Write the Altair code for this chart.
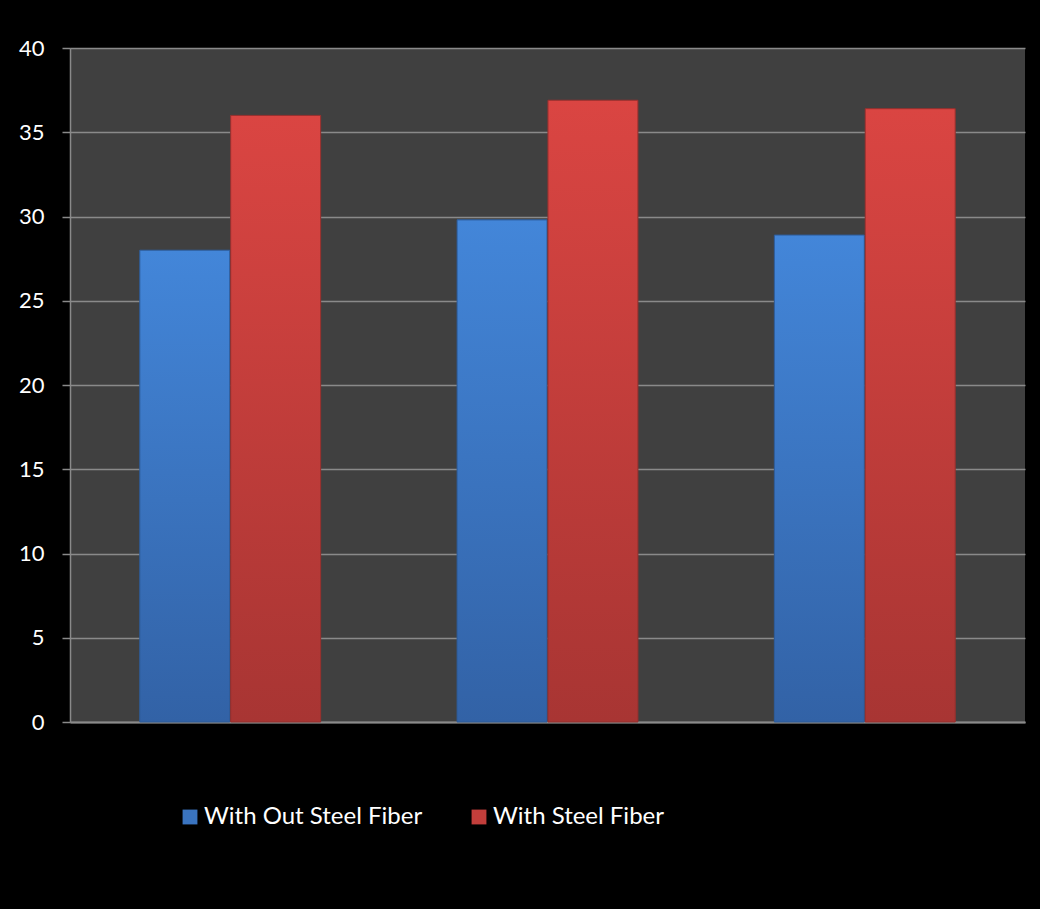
import altair as alt
import pandas as pd

# Compressive strength per mix, with and without steel fibre
groups = ["Mix 1", "Mix 2", "Mix 3"]
series = ["With Out Steel Fiber", "With Steel Fiber"]
without_fiber = [28.0, 29.8, 28.9]
with_fiber = [36.0, 36.9, 36.4]
y_ticks = [0, 5, 10, 15, 20, 25, 30, 35, 40]

rows = []
for g, a, b in zip(groups, without_fiber, with_fiber):
    rows.append({"group": g, "series": series[0], "value": a})
    rows.append({"group": g, "series": series[1], "value": b})
df = pd.DataFrame(rows)

font = "Lato"
grid_col = "#8a8a8a"

x_enc = alt.X(
    "group:N",
    sort=groups,
    scale=alt.Scale(paddingInner=0.43, paddingOuter=0.22),
    axis=alt.Axis(title=None, labels=False, ticks=False, domain=True,
                  domainColor=grid_col, domainWidth=2, grid=False),
)
xoff_enc = alt.XOffset("series:N", sort=series,
                       scale=alt.Scale(domain=series, paddingInner=0.01))
y_enc = alt.Y(
    "value:Q",
    scale=alt.Scale(domain=[0, 40], nice=False),
    axis=alt.Axis(title=None, values=y_ticks, labelFontSize=22, labelColor="white",
                  labelFont=font, labelPadding=18, tickSize=8, tickColor=grid_col,
                  tickWidth=1.5, domainColor=grid_col, domainWidth=1.5,
                  gridColor=grid_col, gridWidth=1.5),
)

base = alt.Chart(df).mark_bar().encode(
    x=x_enc,
    xOffset=xoff_enc,
    y=y_enc,
    color=alt.Color(
        "series:N",
        sort=series,
        scale=alt.Scale(domain=series, range=["#3a74c0", "#c23e3b"]),
        legend=alt.Legend(
            title=None, orient="none", direction="horizontal",
            legendX=108, legendY=757, symbolType="square", symbolSize=220,
            symbolStrokeWidth=0, labelFontSize=24, labelColor="white",
            labelFont=font, columnPadding=44, labelOffset=2, labelLimit=0,
        ),
    ),
)


def grad(top, bottom):
    return alt.Gradient(
        gradient="linear", x1=0, y1=0, x2=0, y2=1,
        stops=[alt.GradientStop(offset=0, color=top),
               alt.GradientStop(offset=1, color=bottom)],
    )


blue = alt.Chart(df).transform_filter(
    alt.datum.series == series[0]
).mark_bar(fill=grad("#4386d9", "#3262a6"), stroke="#2d5a96", strokeWidth=1).encode(
    x=x_enc, xOffset=xoff_enc, y=y_enc
)
red = alt.Chart(df).transform_filter(
    alt.datum.series == series[1]
).mark_bar(fill=grad("#da4542", "#a83533"), stroke="#93302e", strokeWidth=1).encode(
    x=x_enc, xOffset=xoff_enc, y=y_enc
)

chart = alt.layer(base, blue, red).properties(
    width=955,
    height=674,
    background="black",
    padding={"left": 70, "top": 48, "right": 15, "bottom": 187},
    autosize=alt.AutoSizeParams(type="none"),
).configure_view(fill="#404040", stroke=None)

chart.save("out.html", embed_options={"renderer": "svg", "actions": False})
